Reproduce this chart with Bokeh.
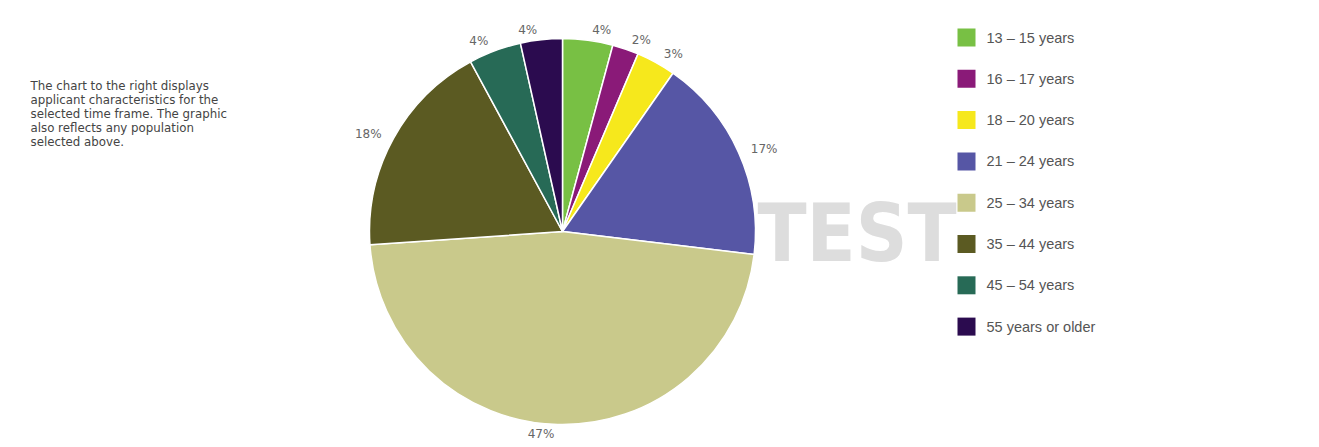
import numpy as np
from bokeh.plotting import figure
from bokeh.models import Range1d, ColumnDataSource
from bokeh.core.properties import value
from bokeh.embed import file_html
from bokeh.resources import INLINE

# ---- data ----
categories = ["13 \u2013 15 years", "16 \u2013 17 years", "18 \u2013 20 years", "21 \u2013 24 years",
              "25 \u2013 34 years", "35 \u2013 44 years", "45 \u2013 54 years", "55 years or older"]
shares = [4.2, 2.2, 3.3, 17.2, 47.0, 18.2, 4.4, 3.5]
pct_labels = ["4%", "2%", "3%", "17%", "47%", "18%", "4%", "4%"]
colors = ["#78c044", "#8a1a78", "#f6e81c", "#5656a5", "#c9c98b", "#5b5a22", "#276a56", "#2b0b4f"]
desc_lines = ["The chart to the right displays",
              "applicant characteristics for the",
              "selected time frame. The graphic",
              "also reflects any population",
              "selected above."]
watermark = "TEST"

# ---- layout ----
W, H = 1319, 447
cx, cy, R = 562, 216, 193
label_r = 203

p = figure(width=W, height=H, x_range=Range1d(0, W), y_range=Range1d(0, H),
           output_backend="svg", toolbar_location=None, min_border=0)
p.axis.visible = False
p.grid.visible = False
p.outline_line_color = None
p.background_fill_color = "white"
p.border_fill_color = "white"

# watermark behind the pie
p.text(x=[757], y=[214], text=[watermark],
       text_font=value("'DejaVu Sans Condensed', 'Liberation Sans', sans-serif"),
       text_font_size="80px", text_font_style="bold", text_color="#dddddd",
       text_align="left", text_baseline="alphabetic")

# pie
vals = np.array(shares, dtype=float)
frac = vals / vals.sum()
cum_end = np.cumsum(frac)
cum_start = cum_end - frac
start_ang = np.pi / 2 - cum_end * 2 * np.pi
end_ang = np.pi / 2 - cum_start * 2 * np.pi
src = ColumnDataSource(dict(start=start_ang, end=end_ang, color=colors))
p.wedge(x=cx, y=cy, radius=R, start_angle="start", end_angle="end", direction="anticlock",
        fill_color="color", line_color="white", line_width=1.5, source=src)

# percentage labels
mid = (cum_start + cum_end) / 2
theta = np.pi / 2 - mid * 2 * np.pi
lx = cx + label_r * np.cos(theta)
ly = cy + label_r * np.sin(theta)
right_side = mid < 0.5
aligns = ["left" if r else "right" for r in right_side]
lx = lx + np.where(right_side, 3, -3)
lsrc = ColumnDataSource(dict(x=lx, y=ly, text=pct_labels, align=aligns))
p.text(x="x", y="y", text="text", text_align="align", text_baseline="middle",
       text_font=value("DejaVu Sans"), text_font_size="12px", text_color="#666666", source=lsrc)

# legend
n = len(categories)
leg_y = 410 - 41.3 * np.arange(n)
p.rect(x=[966] * n, y=leg_y, width=18, height=18, fill_color=colors, line_color=None)
p.text(x=[986] * n, y=leg_y, text=categories, text_baseline="middle", text_align="left",
       text_font=value("Liberation Sans"), text_font_size="14.5px", text_color="#555555")

# description
dy = 362 - 14 * np.arange(len(desc_lines))
p.text(x=[30] * len(desc_lines), y=dy, text=desc_lines, text_baseline="middle", text_align="left",
       text_font=value("DejaVu Sans"), text_font_size="11.8px", text_color="#444444")

open("out.html", "w").write(file_html(p, INLINE))
